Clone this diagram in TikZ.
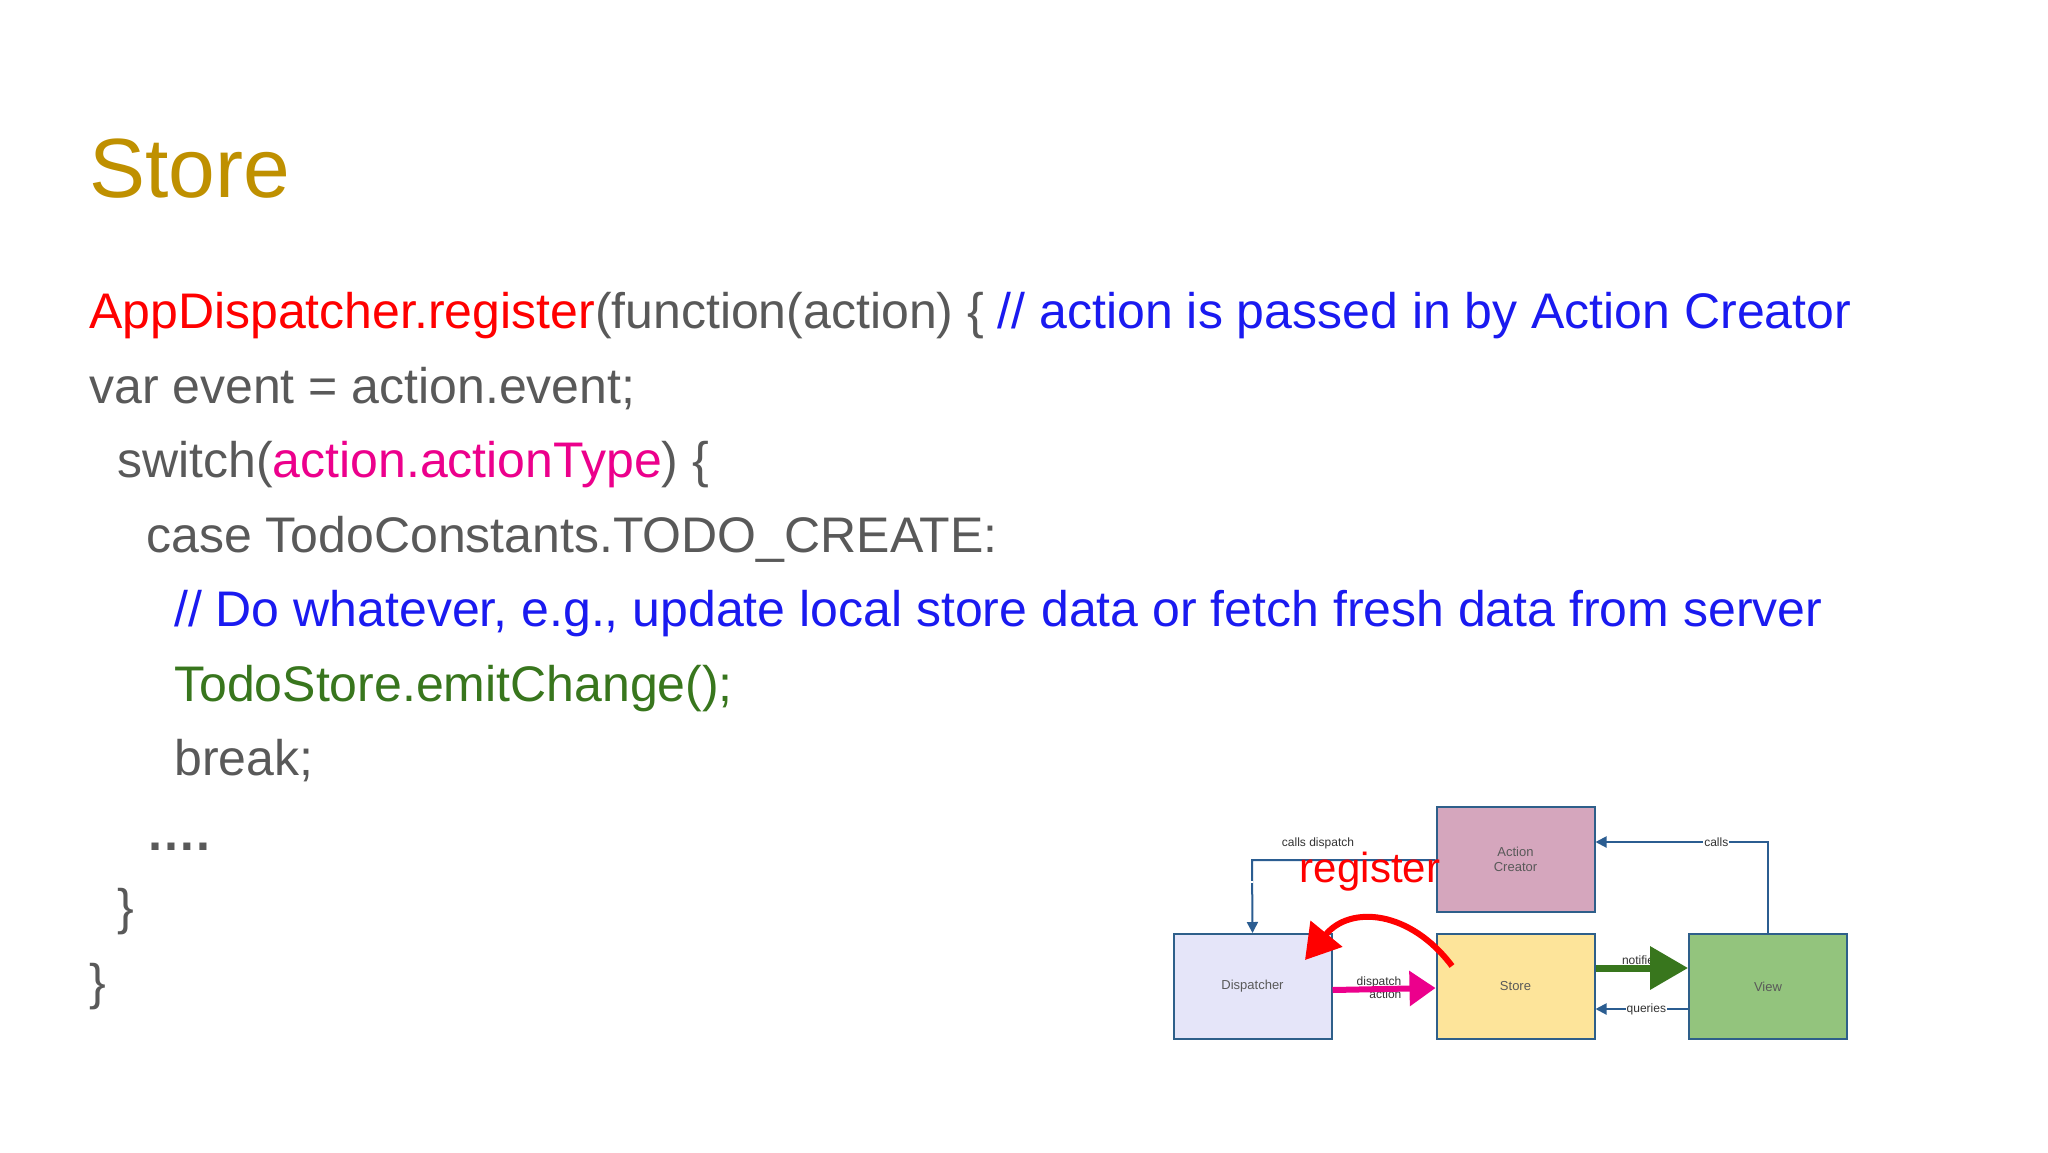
\documentclass[tikz,border=0pt]{standalone}
\usepackage{fontspec}
\setmainfont{Liberation Sans}
\usetikzlibrary{arrows.meta}
\definecolor{gold}{HTML}{BF9000}
\definecolor{codegray}{HTML}{595959}
\definecolor{cblue}{HTML}{1A1AF0}
\definecolor{cgreen}{HTML}{38761D}
\definecolor{boxline}{HTML}{2E5F8A}
\definecolor{conn}{HTML}{2B5D91}
\tikzset{
 code/.style={anchor=base west,inner sep=0pt,font=\fontsize{50}{60}\selectfont,text=codegray},
 box/.style={draw=boxline,line width=2pt,minimum width=158pt,minimum height=105pt,font=\fontsize{13}{15}\selectfont,text=codegray,align=center},
 flow/.style={draw=conn,line width=2pt,-{Triangle[length=11pt,width=11pt]}},
 lab/.style={font=\fontsize{12}{13}\selectfont,fill=white,inner sep=1pt,text=black!80}
}
\begin{document}
\begin{tikzpicture}[x=1pt,y=-1pt]
\useasboundingbox (0,0) rectangle (2048,1152);
\fill[white] (0,0) rectangle (2048,1152);
\node[anchor=base west,inner sep=0pt,font=\fontsize{84}{90}\selectfont,text=gold] (title) at (89,197) {Store};
\node[code] (l1) at (89,328) {\textcolor{red}{AppDispatcher.register}(function(action) \{ \textcolor{cblue}{// action is passed in by Action Creator}};
\node[code] (l2) at (89,403) {var event = action.event;};
\node[code] (l3) at (117,477) {switch(\textcolor{magenta}{action.actionType}) \{};
\node[code] (l4) at (146,552) {case TodoConstants.TODO\_CREATE:};
\node[code] (l5) at (174,626) {\textcolor{cblue}{// Do whatever, e.g., update local store data or fetch fresh data from server}};
\node[code] (l6) at (174,701) {\textcolor{cgreen}{TodoStore.emitChange();}};
\node[code] (l7) at (174,775) {break;};
\node[code] (l8) at (146,850) {\textbf{….}};
\node[code] (l9) at (117,924) {\}};
\node[code] (l10) at (89,999) {\}};
% diagram
\node[box,fill=blue!8!white!95!gray] (disp) at (1252.5,986.5) {Dispatcher};
\node[box,fill={rgb,255:red,253;green,228;blue,154}] (store) at (1515.5,986.5) {Store};
\node[box,fill={rgb,255:red,213;green,166;blue,189}] (ac) at (1515.5,859.5) {Action\\Creator};
\node[box,fill={rgb,255:red,147;green,196;blue,125}] (view) at (1768,986.5) {View};
\draw[flow] (ac.west |- 0,860) -- (1252,860) -- (disp.north) node[pos=0.3,lab] at (1316,843) {};
\node[lab] (cd) at (1318,843) {calls dispatch};
\draw[flow] (view.north) -- (1768,842) -- (ac.east |- 0,842) node[pos=0.3,lab] (cl) {calls};
\draw[flow] (view.west |- 0,1009) -- (store.east |- 0,1009) node[pos=0.45,lab] (q) {queries};
\node[font=\fontsize{12}{13}\selectfont,text=black!80] (nt) at (1641,960) {notifies};
\node[font=\fontsize{12}{13}\selectfont,text=black!80,align=right] (da) at (1379,988) {dispatch\\\hspace*{12pt}action};
\draw[magenta,line width=6pt,-{Triangle[length=26pt,width=34pt]}] (disp.east |- 0,990) -- (store.west |- 0,988);
\draw[cgreen,line width=7pt,-{Triangle[length=38pt,width=42pt]}] (store.east |- 0,968) -- (view.west |- 0,968);
\coordinate (rs) at (1452,966);
\draw[red,line width=6pt,-{Triangle[length=34pt,width=40pt]}] (rs) .. controls (1410,910) and (1350,905) .. (1305,960);
\node[text=red,font=\fontsize{42}{46}\selectfont,inner sep=0pt] (reg) at (1370,872) {register};
\end{tikzpicture}
\end{document}
